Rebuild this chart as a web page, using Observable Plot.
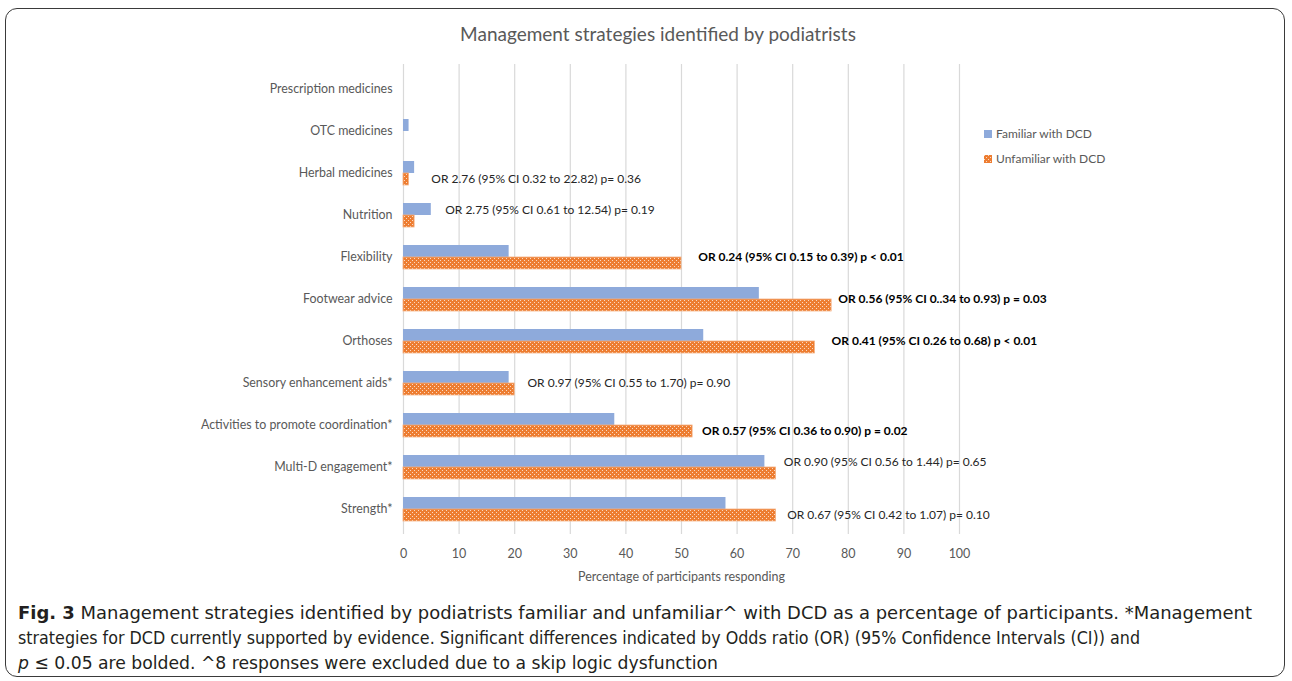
<!DOCTYPE html>
<html><head><meta charset="utf-8">
<script src="https://cdn.jsdelivr.net/npm/d3@7"></script>
<script src="https://cdn.jsdelivr.net/npm/@observablehq/plot@0.6"></script>
<style>
body{margin:0;background:#fff;width:1292px;height:681px;position:relative;overflow:hidden;font-family:Lato,"Open Sans",sans-serif}
#frame{position:absolute;left:5px;top:8px;width:1280px;height:669px;border:1.5px solid #3a3a3a;border-radius:12px;box-sizing:border-box}
#title{position:absolute;top:22px;left:0;width:1316px;text-align:center;font-size:19px;color:#595959}
#chart{position:absolute;left:0;top:0}
#legend{position:absolute;left:984px;top:121px;font-size:12px;color:#595959}
#legend div{height:25px;display:flex;align-items:center;gap:4px}
#caption{position:absolute;left:18px;top:600px;font-family:"DejaVu Sans Condensed","Liberation Sans",sans-serif;font-size:18.5px;line-height:25px;color:#231f20;white-space:nowrap}
#caption span{display:inline-block;transform-origin:0 50%}
</style></head>
<body>
<svg width="0" height="0" style="position:absolute">
  <defs>
    <pattern id="dots" width="4" height="4" patternUnits="userSpaceOnUse">
      <rect width="4" height="4" fill="#ed7d31"></rect>
      <rect x="0" y="0" width="1" height="1" fill="#fbd9c2"></rect>
      <rect x="2" y="2" width="1" height="1" fill="#fbd9c2"></rect>
    </pattern>
  </defs>
</svg>
<div id="frame"></div>
<div id="title">Management strategies identified by podiatrists</div>
<div id="chart"></div>
<div id="legend"></div>
<div id="caption"><span data-w="1234"><b>Fig. 3</b> Management strategies identified by podiatrists familiar and unfamiliar^ with DCD as a percentage of participants. *Management</span><br><span data-w="1122">strategies for DCD currently supported by evidence. Significant differences indicated by Odds ratio (OR) (95% Confidence Intervals (CI)) and</span><br><span data-w="700"><i>p</i> ≤ 0.05 are bolded. ^8 responses were excluded due to a skip logic dysfunction</span></div>
<script>
const categories = ["Prescription medicines","OTC medicines","Herbal medicines","Nutrition","Flexibility","Footwear advice","Orthoses","Sensory enhancement aids*","Activities to promote coordination*","Multi-D engagement*","Strength*"];
const seriesNames = ["Familiar with DCD","Unfamiliar with DCD"];
const familiar   = [0, 1, 2, 5, 19, 64, 54, 19, 38, 65, 58];
const unfamiliar = [0, 0, 1, 2, 50, 77, 74, 20, 52, 67, 67];
const notes = [null, null,
  "OR 2.76 (95% CI 0.32 to 22.82) p= 0.36",
  "OR 2.75 (95% CI 0.61 to 12.54) p= 0.19",
  "OR 0.24 (95% CI 0.15 to 0.39) p < 0.01",
  "OR 0.56 (95% CI 0..34 to 0.93) p = 0.03",
  "OR 0.41 (95% CI 0.26 to 0.68) p < 0.01",
  "OR 0.97 (95% CI 0.55 to 1.70) p= 0.90",
  "OR 0.57 (95% CI 0.36 to 0.90) p = 0.02",
  "OR 0.90 (95% CI 0.56 to 1.44) p= 0.65",
  "OR 0.67 (95% CI 0.42 to 1.07) p= 0.10"];
const noteBold = [false,false,false,false,true,true,true,false,true,false,false];
const noteAt = [null,null,5.0,7.5,53.0,78.2,77.0,22.3,53.7,68.4,69.0];
// which bar of the pair each note sits beside
const noteAlign = [null,null,"unf","fam","both","both","both","both","unf","fam","unf"];
const xTicks = [0,10,20,30,40,50,60,70,80,90,100];

const famRows = categories.map((c,i)=>({category:c, value:familiar[i]}));
const unfRows = categories.map((c,i)=>({category:c, value:unfamiliar[i]}));
const noteRows = categories.map((c,i)=>({category:c, note:notes[i], bold:noteBold[i], at:noteAt[i], align:noteAlign[i]})).filter(d=>d.note);

function noteMarks(bold){
  const shifts = {fam:-5, both:0, unf:6};
  return Object.entries(shifts).map(([k,dy]) =>
    Plot.text(noteRows.filter(d=>d.bold===bold && d.align===k), {
      x: "at", y: "category", text: "note", textAnchor: "start", dy,
      fill: bold ? "#000" : "#262626", fontSize: 12, fontWeight: bold ? "bold" : "normal"
    }));
}

const chart = Plot.plot({
  width: 1292, height: 590,
  marginLeft: 403, marginRight: 333, marginTop: 64, marginBottom: 56,
  x: {domain: [0,100]},
  y: {domain: categories, paddingInner: 0.44, paddingOuter: 0.22},
  style: {fontFamily: "Lato, 'Open Sans', sans-serif", fontSize: "12px", color: "#595959", background: "transparent"},
  marks: [
    Plot.gridX(xTicks, {stroke: "#d9d9d9", strokeOpacity: 1, strokeWidth: 1.2}),
    Plot.barX(famRows, {x: "value", y: "category", fill: "#8eaadb", insetBottom: 12, insetTop: 0}),
    Plot.barX(unfRows, {x: "value", y: "category", fill: "url(#dots)", stroke: "#f4b183", strokeWidth: 0.8, insetTop: 12, insetBottom: 0}),
    ...noteMarks(false),
    ...noteMarks(true),
    Plot.axisX(xTicks, {tickSize: 0, tickPadding: 15, fontSize: 12.5, label: "Percentage of participants responding", labelAnchor: "center", labelArrow: "none", labelOffset: 46}),
    Plot.axisY({tickSize: 0, tickPadding: 11, label: null, fontSize: 12.4})
  ]
});
document.getElementById("chart").append(chart);

const legend = document.getElementById("legend");
seriesNames.forEach((name,i)=>{
  const row = document.createElement("div");
  row.innerHTML = `<svg width="8" height="8"><rect width="8" height="8" fill="${i===0?"#8eaadb":"url(#dots)"}"></rect></svg><span>${name}</span>`;
  legend.append(row);
});

// fit caption lines to the widths seen in the figure
document.querySelectorAll("#caption span[data-w]").forEach(s=>{
  const w = s.getBoundingClientRect().width;
  s.style.transform = `scaleX(${(+s.dataset.w / w).toFixed(4)})`;
});
</script>
</body></html>
